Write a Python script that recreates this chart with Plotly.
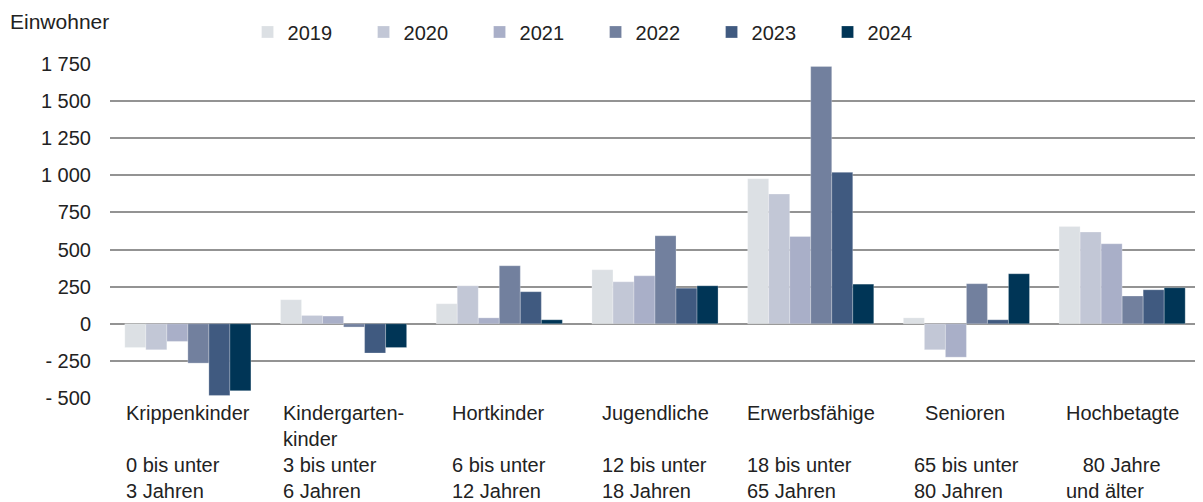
import plotly.graph_objects as go

categories = ["Krippenkinder", "Kindergartenkinder", "Hortkinder", "Jugendliche",
              "Erwerbsfähige", "Senioren", "Hochbetagte"]
cat_labels = [
    "Krippenkinder<br> <br>0 bis unter<br>3 Jahren",
    "Kindergarten-<br>kinder<br>3 bis unter<br>6 Jahren",
    "Hortkinder<br> <br>6 bis unter<br>12 Jahren",
    "Jugendliche<br> <br>12 bis unter<br>18 Jahren",
    "Erwerbsfähige<br> <br>18 bis unter<br>65 Jahren",
    "&nbsp;&nbsp;Senioren<br> <br>65 bis unter<br>80 Jahren",
    "Hochbetagte<br> <br>&nbsp;&nbsp;&nbsp;80 Jahre<br>und älter",
]
years = ["2019", "2020", "2021", "2022", "2023", "2024"]
v2019 = [-160, 162, 135, 364, 977, 40, 656]
v2020 = [-175, 56, 256, 283, 874, -175, 618]
v2021 = [-119, 52, 40, 323, 588, -225, 539]
v2022 = [-265, -22, 391, 593, 1734, 270, 187]
v2023 = [-483, -197, 216, 240, 1020, 27, 229]
v2024 = [-451, -160, 27, 256, 267, 337, 243]
series = [v2019, v2020, v2021, v2022, v2023, v2024]
colors = ["#DCE0E4", "#C2C7D6", "#A9AFC8", "#72809E", "#405A80", "#003556"]

tick_vals = [-500, -250, 0, 250, 500, 750, 1000, 1250, 1500, 1750]
tick_text = ["- 500", "- 250", "0", "250", "500", "750", "1 000", "1 250", "1 500", "1 750"]

FONT = "Liberation Sans, Arial, sans-serif"
fig = go.Figure()
for y, vals, c in zip(years, series, colors):
    fig.add_trace(go.Bar(x=categories, y=vals, name=y, marker_color=c,
                         marker_line=dict(color="rgba(255,255,255,0.5)", width=0.5)))

for cat, lab in zip(categories, cat_labels):
    fig.add_annotation(x=cat, xref="x", y=0, yref="paper", yanchor="top", yshift=-2,
                       xanchor="center", align="left", text=lab, showarrow=False,
                       font=dict(family=FONT, size=20, color="#222"))

fig.add_annotation(x=0, xref="paper", xanchor="left", xshift=-102, y=1, yref="paper",
                   yanchor="bottom", yshift=29, text="Einwohner", showarrow=False,
                   font=dict(family=FONT, size=21, color="#222"))

fig.update_layout(
    width=1203, height=502,
    margin=dict(l=102, r=11, t=56, b=112, autoexpand=False),
    plot_bgcolor="white", paper_bgcolor="white",
    barmode="group", bargap=0.19, bargroupgap=0,
    font=dict(family=FONT, size=20, color="#222"),
    legend=dict(orientation="h", x=0.1262, xanchor="left", y=1.096, yanchor="middle",
                yref="paper", entrywidth=71, entrywidthmode="pixels",
                font=dict(size=20), itemwidth=30, bgcolor="rgba(0,0,0,0)"),
    showlegend=True,
)
fig.update_xaxes(showticklabels=False, showgrid=False, zeroline=False, showline=False,
                 automargin=False)
fig.update_yaxes(range=[-500, 1750], tickvals=tick_vals, ticktext=tick_text,
                 showgrid=True, gridcolor="#939393", gridwidth=2,
                 zeroline=True, zerolinecolor="#939393", zerolinewidth=2,
                 ticks="", ticklabelstandoff=18, showline=False, automargin=False)

fig.write_html("out.html")
